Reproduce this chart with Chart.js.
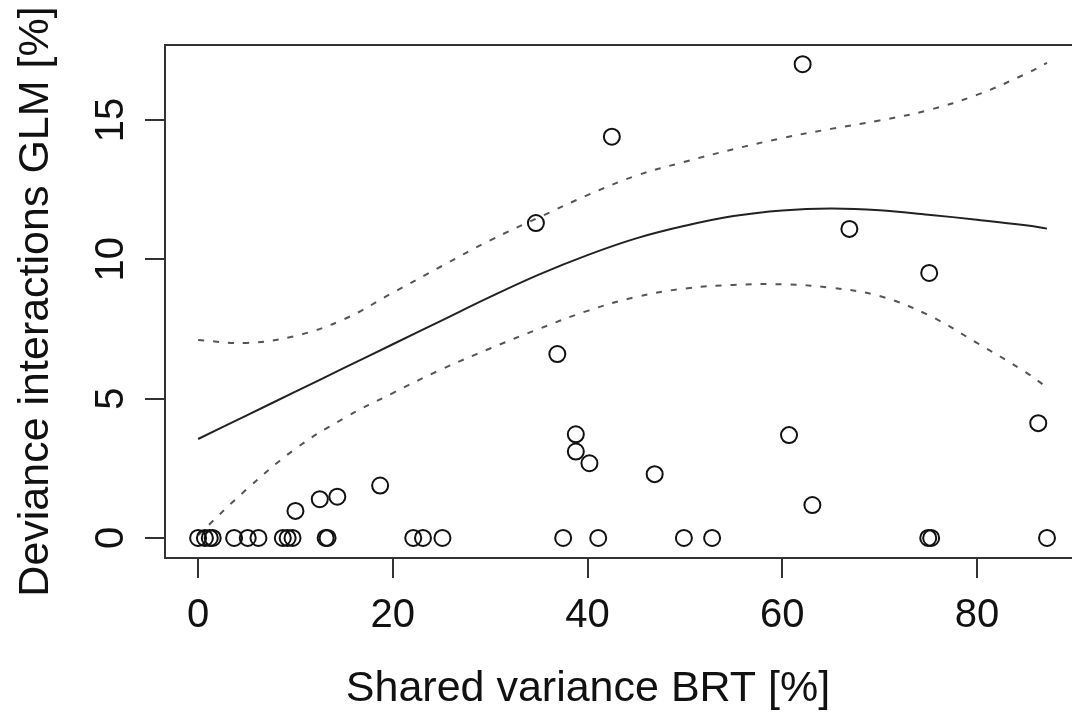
<!DOCTYPE html>
<html>
<head>
<meta charset="utf-8">
<script src="https://cdn.jsdelivr.net/npm/chart.js@4/dist/chart.umd.min.js"></script>
<style>
  html, body { margin: 0; padding: 0; background: #fff; overflow: hidden; }
  canvas { display: block; }
</style>
</head>
<body>
<canvas id="myChart" width="1100" height="715"></canvas>
<script>
// observed points
const pointX = [0, 0.7, 1.2, 1.5, 3.7, 5.1, 6.2, 8.7, 9.2, 9.7, 13.1, 13.3, 22.1, 23.1, 25.1,
  37.5, 41.1, 49.9, 52.8, 75.0, 75.3, 87.2,
  10.0, 12.5, 14.3, 18.7, 34.7, 36.9, 38.8, 38.8, 40.2, 42.5, 46.9, 60.7, 62.1, 63.1, 66.9, 75.1, 86.3];
const pointY = [0, 0, 0, 0, 0, 0, 0, 0, 0, 0, 0, 0, 0, 0, 0,
  0, 0, 0, 0, 0, 0, 0,
  0.97, 1.39, 1.48, 1.88, 11.3, 6.6, 3.72, 3.1, 2.68, 14.4, 2.29, 3.69, 17.0, 1.18, 11.09, 9.51, 4.12];

// fitted curve and confidence band
const curveX = [0, 5, 10, 15, 20, 25, 30, 35, 40, 45, 50, 55, 60, 65, 70, 75, 80, 85, 87.2];
const fitY = [3.55, 4.4, 5.25, 6.1, 6.95, 7.8, 8.65, 9.45, 10.15, 10.75, 11.2, 11.55, 11.75, 11.82, 11.76, 11.6, 11.42, 11.22, 11.1];
const upperY = [7.1, 7.0, 7.25, 7.85, 8.8, 9.75, 10.68, 11.5, 12.3, 13.0, 13.5, 13.95, 14.35, 14.68, 14.98, 15.35, 15.9, 16.65, 17.05];
const lowerY = [0.1, 1.75, 3.2, 4.3, 5.2, 6.05, 6.8, 7.5, 8.15, 8.65, 8.95, 9.08, 9.1, 8.98, 8.68, 8.0, 7.0, 5.95, 5.4];

const xTicks = [0, 20, 40, 60, 80];
const yTicks = [0, 5, 10, 15];

const xTitle = 'Shared variance BRT [%]';
const yTitle = 'Deviance interactions GLM [%]';

const toXY = (xs, ys) => xs.map((x, i) => ({ x: x, y: ys[i] }));

const FONT = '"Liberation Sans", Arial, sans-serif';

// box around the plot region + x axis title
const boxPlugin = {
  id: 'box',
  afterDraw(chart) {
    const { ctx, chartArea } = chart;
    ctx.save();
    ctx.strokeStyle = '#333';
    ctx.lineWidth = 2;
    ctx.strokeRect(chartArea.left, chartArea.top, chartArea.right - chartArea.left, chartArea.bottom - chartArea.top);
    ctx.fillStyle = '#111';
    ctx.font = '43px ' + FONT;
    ctx.textAlign = 'center';
    ctx.textBaseline = 'middle';
    ctx.fillText(xTitle, 588, 689);
    ctx.restore();
  }
};

const ctx = document.getElementById('myChart').getContext('2d');
const myChart = new Chart(ctx, {
  type: 'scatter',
  data: {
    datasets: [
      {
        data: toXY(pointX, pointY),
        pointRadius: 8,
        pointBorderWidth: 2,
        pointBorderColor: '#111',
        pointBackgroundColor: 'rgba(0,0,0,0)',
        showLine: false,
      },
      {
        data: toXY(curveX, fitY),
        showLine: true,
        pointRadius: 0,
        borderColor: '#222',
        borderWidth: 2,
        tension: 0.4,
      },
      {
        data: toXY(curveX, upperY),
        showLine: true,
        pointRadius: 0,
        borderColor: '#555',
        borderWidth: 2,
        borderDash: [6, 9],
        tension: 0.4,
      },
      {
        data: toXY(curveX, lowerY),
        showLine: true,
        pointRadius: 0,
        borderColor: '#555',
        borderWidth: 2,
        borderDash: [6, 9],
        tension: 0.4,
      },
    ],
  },
  options: {
    responsive: false,
    animation: false,
    devicePixelRatio: 1,
    layout: { padding: { top: 45, right: 16, bottom: 0, left: 0 } },
    plugins: { legend: { display: false }, tooltip: { enabled: false } },
    scales: {
      x: {
        type: 'linear',
        min: -3.4,
        max: 91,
        afterFit: (s) => { s.height = 157; },
        afterBuildTicks: (s) => { s.ticks = xTicks.map((v) => ({ value: v })); },
        border: { display: false },
        grid: { drawOnChartArea: false, drawTicks: true, tickLength: 20, color: '#333', lineWidth: 2 },
        ticks: { color: '#111', font: { family: FONT, size: 40 }, padding: 14, maxRotation: 0 },
      },
      y: {
        type: 'linear',
        min: -0.72,
        max: 17.69,
        afterFit: (s) => { s.width = 165; },
        afterBuildTicks: (s) => { s.ticks = yTicks.map((v) => ({ value: v })); },
        border: { display: false },
        grid: { drawOnChartArea: false, drawTicks: true, tickLength: 20, color: '#333', lineWidth: 2 },
        ticks: { color: '#111', font: { family: FONT, size: 40 }, padding: 11, minRotation: 90, maxRotation: 90, crossAlign: 'center' },
        title: { display: true, text: yTitle, color: '#111', font: { family: FONT, size: 43 }, padding: { top: 10, bottom: 0 } },
      },
    },
  },
  plugins: [boxPlugin],
});
</script>
</body>
</html>
